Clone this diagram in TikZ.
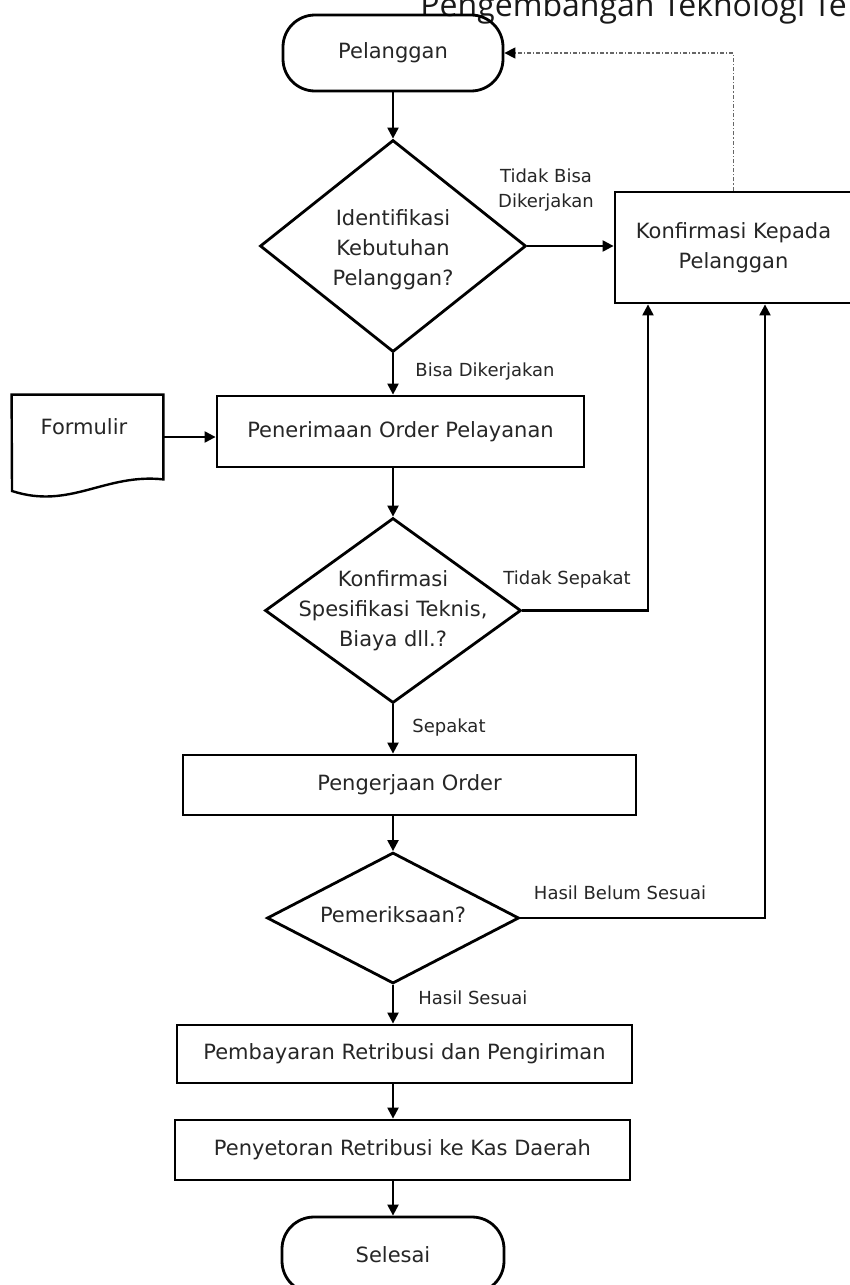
\documentclass[tikz,border=0pt]{standalone}
\usepackage{fontspec}
\setmainfont{DejaVu Sans}
\newfontfamily\titlefont{Open Sans}
\usetikzlibrary{shapes.geometric,arrows.meta}
\begin{document}
\begin{tikzpicture}[x=0.5pt,y=-0.5pt,
  txt/.style={font=\fontsize{10.5}{15}\selectfont, text=black!85, inner sep=0pt, align=center},
  lbl/.style={font=\fontsize{9}{12.5}\selectfont, text=black!85, inner sep=0pt, align=center},
  box/.style={draw, line width=1.4pt, rectangle, inner sep=0pt, txt},
  term/.style={draw, line width=1.4pt, rectangle, rounded corners=16pt, inner sep=0pt, txt},
  dia/.style={draw, line width=1.4pt, diamond, inner sep=0pt},
  conn/.style={line width=1.1pt, -{Triangle[length=5.5pt,width=5.5pt]}},
  dotconn/.style={line width=0.7pt, draw=black!60, dash pattern=on 2pt off 1pt on 0.6pt off 1pt, -{Triangle[length=5.5pt,width=5.5pt,color=black,fill=black]}}]
\useasboundingbox (0,0) rectangle (850,1285);
\fill[white] (0,0) rectangle (850,1285);

% title (cut by the picture edge, as in the reference)
\node[anchor=base west, inner sep=0pt, font=\titlefont\fontsize{16}{18}\selectfont, text=black!90] (title) at (420,17) {Pengembangan Teknologi Te};

% nodes
\node[term, minimum width=110pt, minimum height=38pt] (pel) at (393,53) {Pelanggan};
\node[dia, minimum width=133pt, minimum height=106pt] (d1) at (393,246) {};
\node[txt] (d1t) at (393,250) {Identifikasi\\Kebutuhan\\Pelanggan?};
\node[box, minimum width=118.5pt, minimum height=55.5pt] (kon) at (733.5,247.5) {Konfirmasi Kepada\\Pelanggan};
\node[box, minimum width=183.5pt, minimum height=35.5pt] (pen) at (400.5,431.5) {Penerimaan Order Pelayanan};
\node[minimum width=75.5pt, minimum height=42pt, inner sep=0pt] (form) at (87.5,437) {};
\draw[line width=1.2pt] (form.north west) -- (form.north east) -- (form.south east)
   .. controls (105,473) and (70,510) .. (12,491) -- cycle;
\node[txt] (formt) at (84,427) {Formulir};
\node[dia, minimum width=128pt, minimum height=92.5pt] (d2) at (393,610.5) {};
\node[txt] (d2t) at (393,611) {Konfirmasi\\Spesifikasi Teknis,\\Biaya dll.?};
\node[box, minimum width=226.5pt, minimum height=30pt] (kerja) at (409.5,785) {Pengerjaan Order};
\node[dia, minimum width=126pt, minimum height=65.5pt] (d3) at (393,918) {};
\node[txt] (d3t) at (393,915) {Pemeriksaan?};
\node[box, minimum width=227.5pt, minimum height=29pt] (bayar) at (404.5,1054) {Pembayaran Retribusi dan Pengiriman};
\node[box, minimum width=227.5pt, minimum height=30pt] (setor) at (402.5,1150) {Penyetoran Retribusi ke Kas Daerah};
\node[term, minimum width=111pt, minimum height=38pt] (sel) at (393,1255) {Selesai};

% labels
\node[lbl] (l1) at (546,190) {Tidak Bisa\\Dikerjakan};
\node[lbl, anchor=west] (l2) at (415,372) {Bisa Dikerjakan};
\node[lbl] (l3) at (567,580) {Tidak Sepakat};
\node[lbl, anchor=west] (l4) at (412,728) {Sepakat};
\node[lbl] (l5) at (620,893) {Hasil Belum Sesuai};
\node[lbl, anchor=west] (l6) at (418,998) {Hasil Sesuai};

% connectors
\draw[conn] (pel.south) -- (d1.north);
\draw[conn] (d1.east) -- (kon.west |- d1.east);
\draw[conn] (d1.south) -- (d1.south |- pen.north);
\draw[conn] (form.east) -- (form.east -| pen.west);
\draw[conn] (d2.north |- pen.south) -- (d2.north);
\draw[conn] (d2.east) -| (648,0 |- kon.south);
\draw[conn] (d2.south) -- (d2.south |- kerja.north);
\draw[conn] (d3.north |- kerja.south) -- (d3.north);
\draw[conn] (d3.east) -| (765,0 |- kon.south);
\draw[conn] (d3.south) -- (d3.south |- bayar.north);
\draw[conn] (d3.south |- bayar.south) -- (d3.south |- setor.north);
\draw[conn] (sel.north |- setor.south) -- (sel.north);
\draw[dotconn] (kon.north) |- (pel.east);
\end{tikzpicture}
\end{document}
